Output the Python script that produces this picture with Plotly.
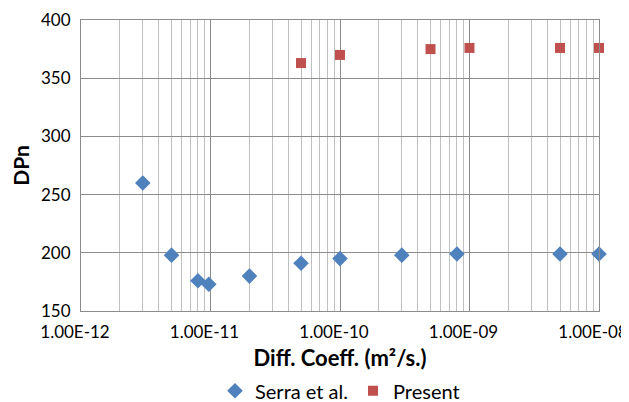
import plotly.graph_objects as go

serra_x = [3e-12, 5e-12, 8e-12, 9.7e-12, 2e-11, 5e-11, 1e-10, 3e-10, 8e-10, 5e-9, 1e-8]
serra_y = [260, 198, 176, 173, 180, 191, 195, 198, 199, 199, 199]
present_x = [5e-11, 1e-10, 5e-10, 1e-9, 5e-9, 1e-8]
present_y = [363, 370, 375, 376, 376, 376]
x_tickvals = [1e-12, 1e-11, 1e-10, 1e-9, 1e-8]
x_ticktext = ["1.00E-12", "1.00E-11", "1.00E-10", "1.00E-09", "1.00E-08"]

FONT = "Lato"
fig = go.Figure()
fig.add_trace(go.Scatter(x=serra_x, y=serra_y, mode="markers", name="Serra et al.",
                         cliponaxis=False,
                         marker=dict(symbol="diamond", size=12, color="#4F81BD")))
fig.add_trace(go.Scatter(x=present_x, y=present_y, mode="markers", name="Present",
                         cliponaxis=False,
                         marker=dict(symbol="square", size=10, color="#C0504D")))

# page has an 8px body margin, so the figure is 8px smaller than the window
fig.update_layout(
    width=621, height=394,
    margin=dict(l=73, r=30, t=12, b=91, autoexpand=False),
    paper_bgcolor="white", plot_bgcolor="white",
    font=dict(family=FONT, size=17, color="#000000"),
    showlegend=True,
    legend=dict(orientation="h", x=0.5, xanchor="center", xref="paper",
                yref="container", y=0.078, yanchor="top",
                font=dict(size=20), itemwidth=30),
)
fig.update_xaxes(
    type="log", range=[-12, -8], automargin=False,
    tickvals=x_tickvals, ticktext=x_ticktext, ticklabelstandoff=6,
    ticklabelshift=-6, ticklabeloverflow="allow",
    showgrid=True, gridcolor="#8C8C8C", gridwidth=1,
    minor=dict(showgrid=True, gridcolor="#C0C0C0", dtick="D1"),
    showline=True, linecolor="#8C8C8C", linewidth=1, mirror=True,
    zeroline=False, ticks="",
    title=dict(text="<b>Diff. Coeff. (m²/s.)</b>", font=dict(size=22), standoff=13),
)
fig.update_yaxes(
    range=[150, 400], dtick=50, automargin=False, ticklabelstandoff=6,
    showgrid=True, gridcolor="#8C8C8C", gridwidth=1,
    showline=True, linecolor="#8C8C8C", linewidth=1, mirror=True,
    zeroline=False, ticks="",
    title=dict(text="<b>DPn</b>", font=dict(size=21), standoff=10),
)
fig.write_html("out.html")
